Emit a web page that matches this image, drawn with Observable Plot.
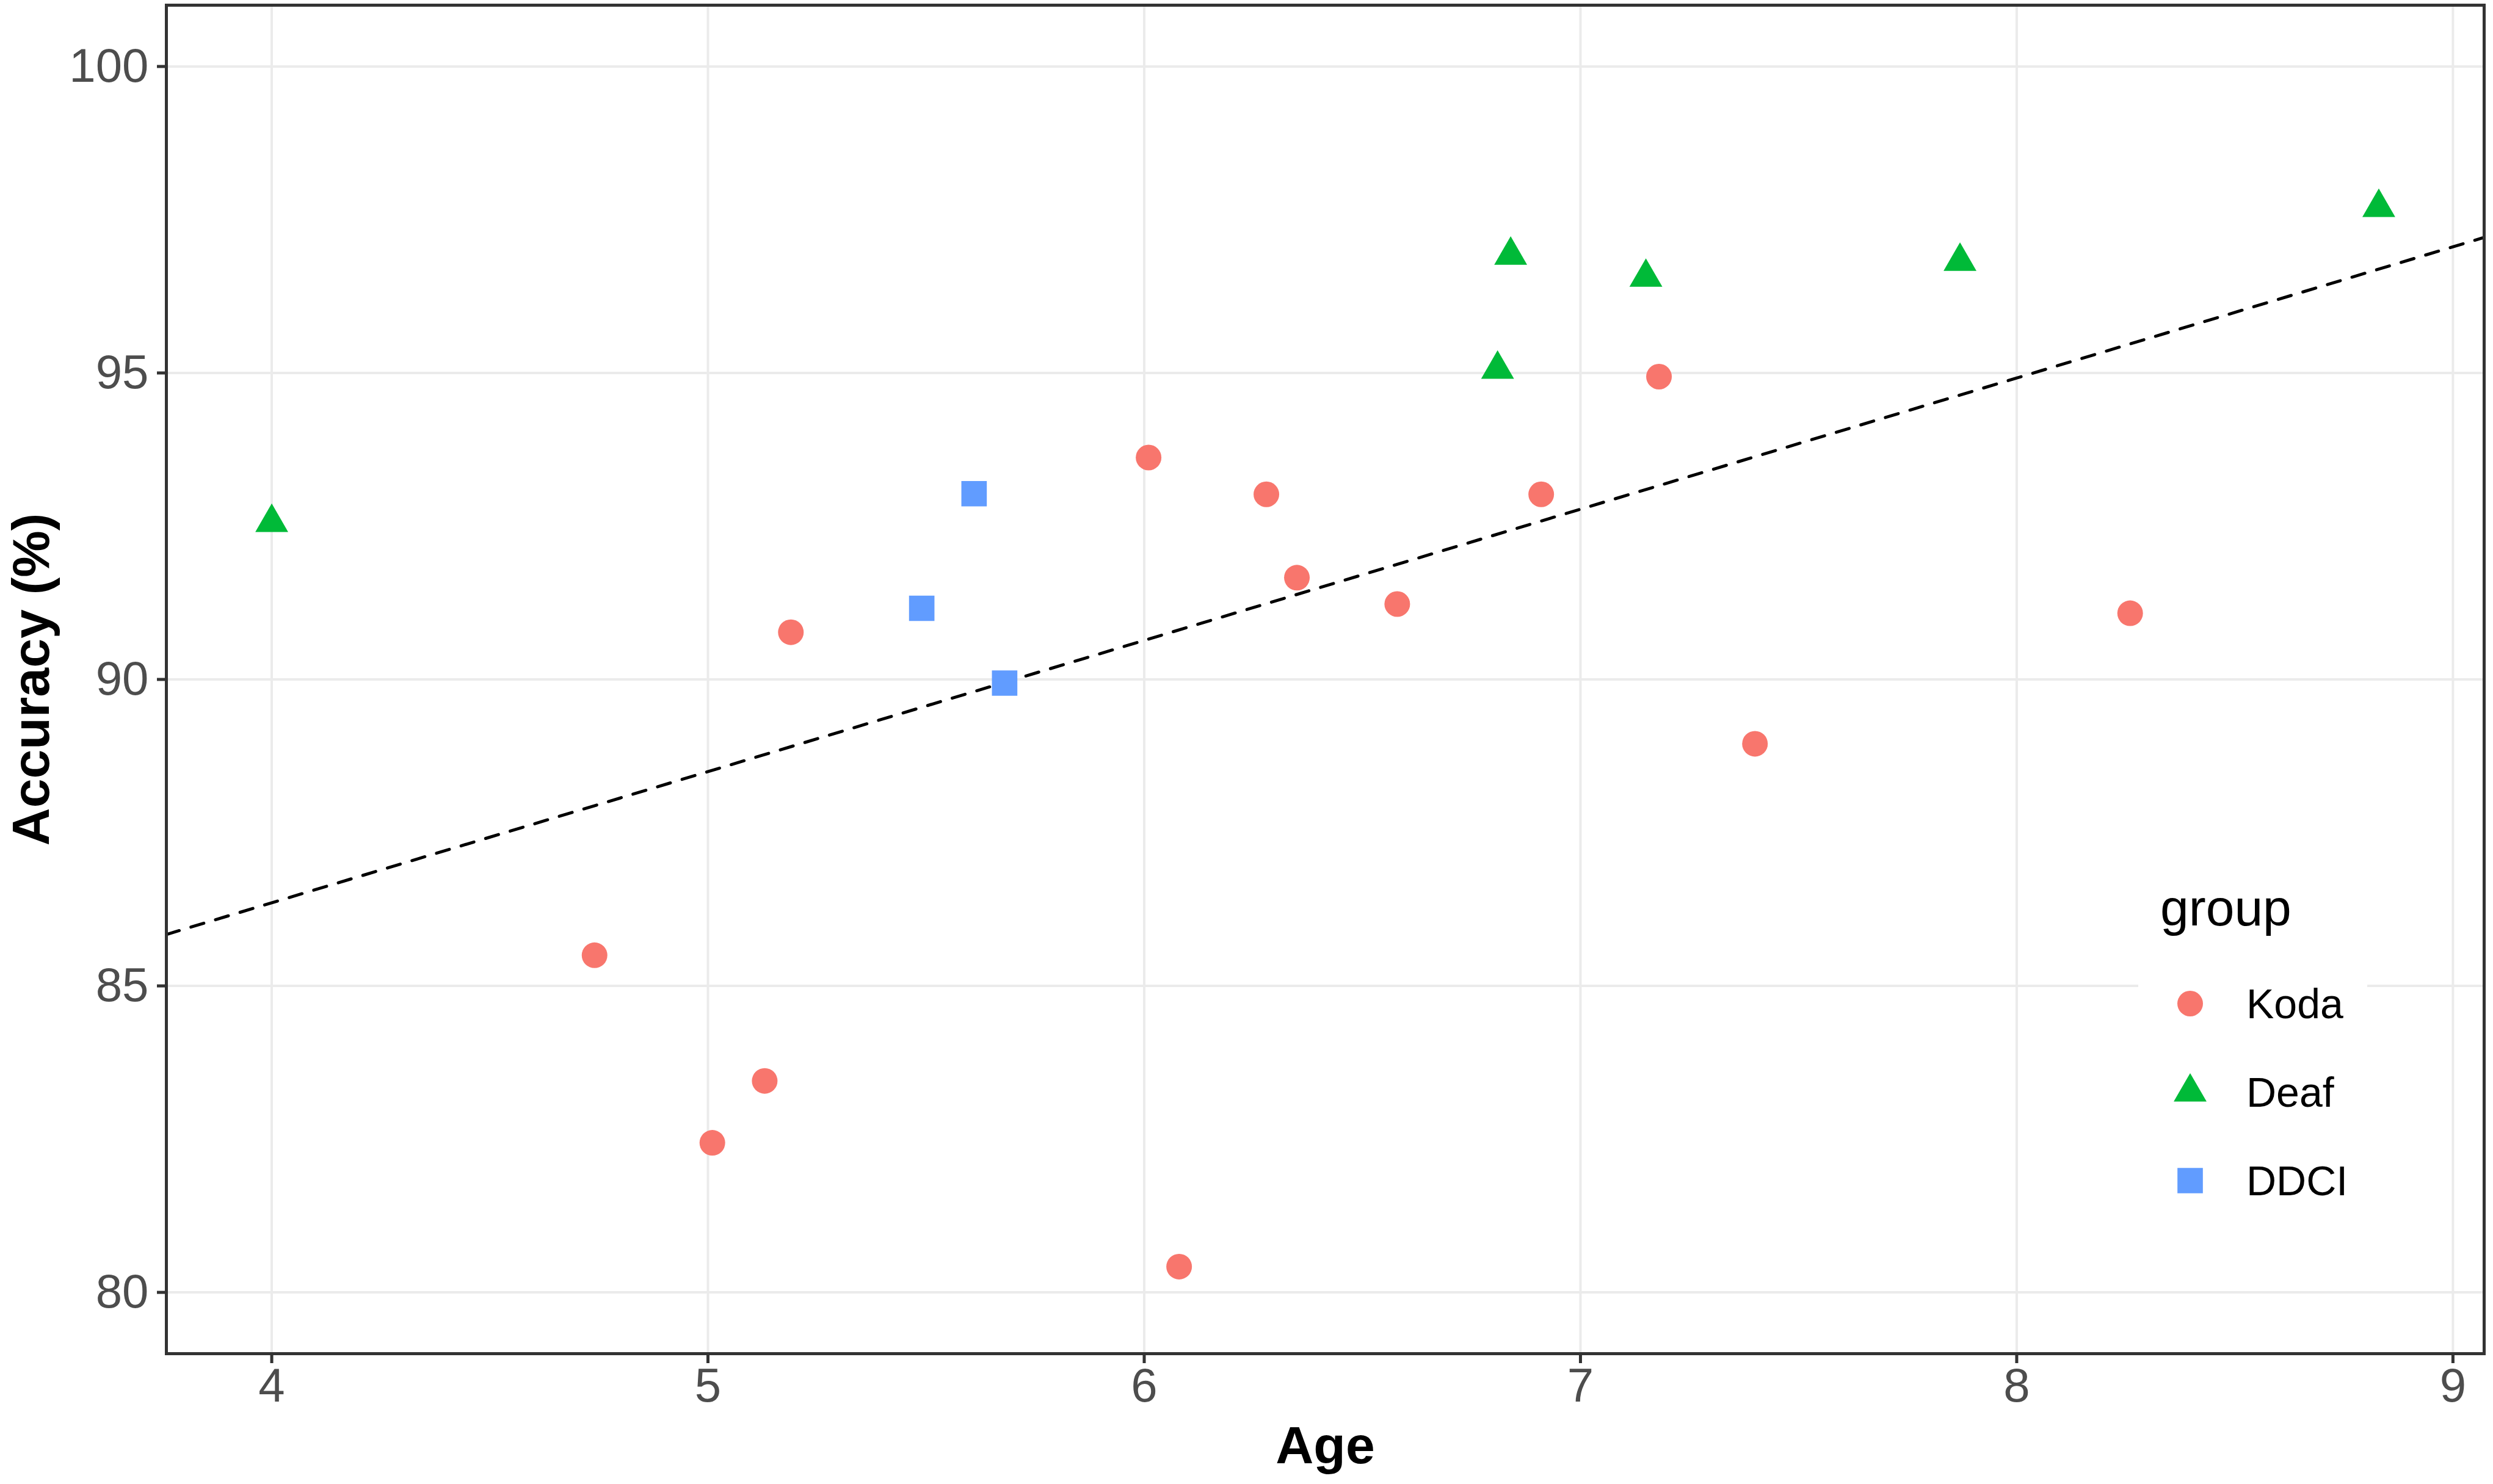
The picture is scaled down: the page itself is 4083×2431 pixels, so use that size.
<!DOCTYPE html>
<html>
<head>
<meta charset="utf-8">
<script src="https://cdn.jsdelivr.net/npm/d3@7"></script>
<script src="https://cdn.jsdelivr.net/npm/@observablehq/plot@0.6"></script>
<style>
  html, body { margin: 0; padding: 0; background: white; }
  #chart { width: 4083px; height: 2431px; }
</style>
</head>
<body>
<div id="chart"></div>
<script>
// ---- data ----
const groups = ["Koda", "Deaf", "DDCI"];
const groupColors = ["#F8766D", "#00BA38", "#619CFF"];
const groupSymbols = ["circle", "triangle", "square"];
const groupRadius = [21, 20, 23.5];

const kodaAge = [4.74, 5.01, 5.13, 5.19, 6.01, 6.08, 6.28, 6.35, 6.58, 6.91, 7.18, 7.40, 8.26];
const kodaAcc = [85.50, 82.44, 83.45, 90.77, 93.62, 80.42, 93.02, 91.66, 91.23, 93.02, 94.94, 88.95, 91.08];

const deafAge = [4.00, 6.81, 6.84, 7.15, 7.87, 8.83];
const deafAcc = [92.56, 95.06, 96.92, 96.56, 96.82, 97.70];

const ddciAge = [5.49, 5.61, 5.68];
const ddciAcc = [91.16, 93.03, 89.94];

const xTicks = [4, 5, 6, 7, 8, 9];
const yTicks = [80, 85, 90, 95, 100];
const yLimits = [80, 100];

// ---- build table ----
const table = [];
[[kodaAge, kodaAcc], [deafAge, deafAcc], [ddciAge, ddciAcc]].forEach(([ages, accs], gi) => {
  ages.forEach((a, i) => table.push({group: groups[gi], age: a, acc: accs[i]}));
});

// ggplot-like 5% expansion
const [xmin, xmax] = d3.extent(table, d => d.age);
const xPad = 0.05 * (xmax - xmin);
const xDomain = [xmin - xPad, xmax + xPad];
const yPad = 0.05 * (yLimits[1] - yLimits[0]);
const yDomain = [yLimits[0] - yPad, yLimits[1] + yPad];

// least-squares fit over all points, drawn across the panel
const mx = d3.mean(table, d => d.age), my = d3.mean(table, d => d.acc);
const slope = d3.sum(table, d => (d.age - mx) * (d.acc - my)) / d3.sum(table, d => (d.age - mx) ** 2);
const intercept = my - slope * mx;
const fitLine = xDomain.map(x => ({x, y: intercept + slope * x}));

const font = "'Liberation Sans', Arial, sans-serif";

const dotMarks = groups.map((g, gi) => Plot.dot(table.filter(d => d.group === g), {
  x: "age", y: "acc", symbol: () => groupSymbols[gi], fill: groupColors[gi], r: groupRadius[gi], stroke: "none"
}));

const plot = Plot.plot({
  width: 4083,
  height: 2431,
  marginLeft: 272,
  marginRight: 15,
  marginTop: 8,
  marginBottom: 214,
  style: {fontFamily: font, background: "white", overflow: "visible"},
  x: {domain: xDomain},
  y: {domain: yDomain},
  symbol: {type: "identity"},
  marks: [
    Plot.gridX(xTicks, {stroke: "#ebebeb", strokeOpacity: 1, strokeWidth: 4}),
    Plot.gridY(yTicks, {stroke: "#ebebeb", strokeOpacity: 1, strokeWidth: 4}),
    Plot.line(fitLine, {x: "x", y: "y", stroke: "black", strokeWidth: 5, strokeDasharray: "22,20"}),
    ...dotMarks,
    Plot.frame({stroke: "#333333", strokeWidth: 5}),
    Plot.axisX(xTicks, {tickSize: 16, tickPadding: 7, fontSize: 78, stroke: "#333333", strokeWidth: 5, fill: "#4d4d4d", label: null, tickFormat: d => String(d)}),
    Plot.axisY(yTicks, {tickSize: 15, tickPadding: 14, fontSize: 78, stroke: "#333333", strokeWidth: 5, fill: "#4d4d4d", label: null, tickFormat: d => String(d)}),
    Plot.text(["Age"], {frameAnchor: "bottom", dy: 152, lineAnchor: "middle", textAnchor: "middle", fontSize: 86, fontWeight: "bold", fill: "black"}),
    Plot.text(["Accuracy (%)"], {frameAnchor: "left", dx: -220, rotate: -90, lineAnchor: "middle", textAnchor: "middle", fontSize: 86, fontWeight: "bold", fill: "black"})
  ]
});

// ---- legend (inside panel, bottom right) ----
const svg = d3.select(plot);
const lg = svg.append("g").attr("font-family", font).attr("text-anchor", "start");
lg.append("rect").attr("x", 3502).attr("y", 1445).attr("width", 375).attr("height", 560).attr("fill", "white");
lg.append("text").attr("x", 3538).attr("y", 1516).attr("font-size", 84).attr("fill", "black").attr("text-anchor", "start").text("group");
groups.forEach((g, i) => {
  const cy = 1644 + i * 145;
  const size = Math.PI * groupRadius[i] ** 2;
  const sym = {circle: d3.symbolCircle, triangle: d3.symbolTriangle, square: d3.symbolSquare}[groupSymbols[i]];
  lg.append("path")
    .attr("transform", `translate(3587,${cy})`)
    .attr("d", d3.symbol(sym, size)())
    .attr("fill", groupColors[i]);
  lg.append("text").attr("x", 3679).attr("y", cy).attr("dy", "0.36em")
    .attr("text-anchor", "start")
    .attr("font-size", 68).attr("fill", "black").text(g);
});

document.getElementById("chart").appendChild(plot);
</script>
</body>
</html>
